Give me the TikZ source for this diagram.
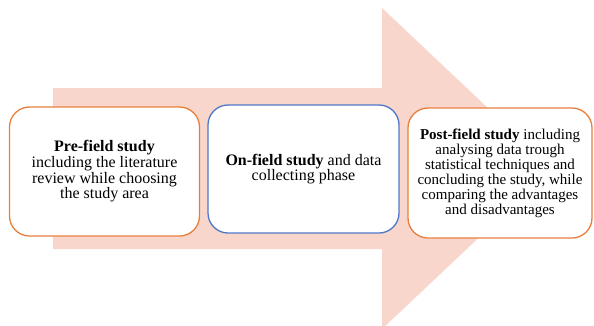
\documentclass[tikz,border=0pt]{standalone}
\usepackage{fontspec}
\setmainfont{Liberation Serif}
\definecolor{arrowpink}{HTML}{F8D6CC}
\definecolor{boxorange}{HTML}{E8803C}
\definecolor{boxblue}{HTML}{4F78C8}
\tikzset{
  stagebox/.style={draw, line width=1.3pt, fill=white, rounded corners=20pt,
    align=center, inner sep=0pt, font=\fontsize{16}{15.7}\selectfont},
}
\begin{document}
\begin{tikzpicture}[x=1pt,y=-1pt]
\useasboundingbox (0,0) rectangle (594,325);
\fill[white] (0,0) rectangle (594,325);
\begin{scope}
\clip (0,0) rectangle (594,325);
\fill[arrowpink] (53,88) -- (382,88) -- (382,8) -- (552,168.5) -- (382,329) -- (382,249) -- (53,249) -- cycle;
\end{scope}
\node[stagebox, draw=boxorange, minimum width=190pt, minimum height=129pt] (pre) at (104.5,171.5)
  {\textbf{Pre-field study}\\including the literature\\review while choosing\\the study area};
\node[stagebox, draw=boxblue, minimum width=191pt, minimum height=128pt] (on) at (303.5,169)
  {\textbf{On-field study} and data\\collecting phase};
\node[stagebox, draw=boxorange, minimum width=184pt, minimum height=130pt,
  font=\fontsize{15}{15}\selectfont] (post) at (500,173)
  {\textbf{Post-field study} including\\analysing data trough\\statistical techniques and\\concluding the study, while\\comparing the advantages\\and disadvantages};
\end{tikzpicture}
\end{document}
